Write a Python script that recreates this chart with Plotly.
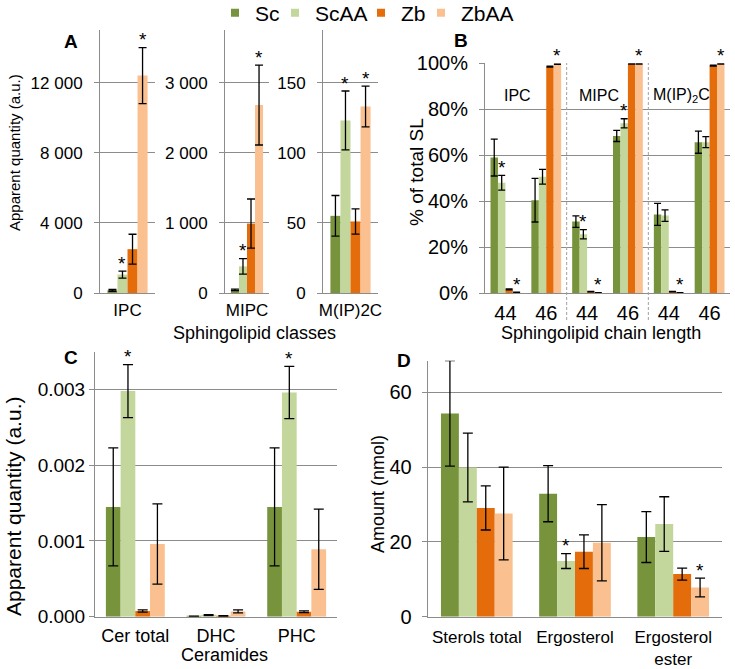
import plotly.graph_objects as go

W, H = 735, 669
FONT = "Liberation Sans, Arial, sans-serif"
GRAY = "#8c8c8c"

series = ["Sc", "ScAA", "Zb", "ZbAA"]
colors = ["#77933C", "#C3D69B", "#E46C0A", "#FAC090"]

# ---------------- Panel A : sphingolipid classes ----------------
a_cats = ["IPC", "MIPC", "M(IP)2C"]
a_ipc_vals = [150, 1050, 2500, 12400]
a_ipc_err = [50, 200, 850, 1600]
a_mipc_vals = [45, 380, 990, 2680]
a_mipc_err = [10, 110, 350, 570]
a_mip2c_vals = [55, 123, 51, 133]
a_mip2c_err = [14.5, 21, 9, 14.5]
a_sig = [False, True, False, True]   # per series, same in all three classes

# ---------------- Panel B : chain length (% of total SL) ----------------
b_cats = ["IPC 44", "IPC 46", "MIPC 44", "MIPC 46", "M(IP)2C 44", "M(IP)2C 46"]
b_ticks = ["44", "46", "44", "46", "44", "46"]
b_groups = ["IPC", "MIPC", "M(IP)<sub>2</sub>C"]
b_sc = [0.590, 0.405, 0.312, 0.684, 0.343, 0.657]
b_sc_err = [0.080, 0.095, 0.025, 0.024, 0.048, 0.048]
b_scaa = [0.481, 0.507, 0.257, 0.739, 0.338, 0.657]
b_scaa_err = [0.032, 0.032, 0.020, 0.020, 0.025, 0.024]
b_zb = [0.017, 0.986, 0.007, 0.997, 0.007, 0.990]
b_zb_err = [0.002, 0.002, 0.001, 0.001, 0.001, 0.002]
b_zbaa = [0.004, 0.996, 0.002, 0.998, 0.002, 0.998]
b_zbaa_err = [0.001, 0.001, 0.001, 0.001, 0.001, 0.001]
b_sig_scaa = [True, False, True, True, False, False]
b_sig_zbaa = [True, True, True, True, True, True]

# ---------------- Panel C : ceramides ----------------
c_cats = ["Cer total", "DHC", "PHC"]
c_sc = [0.00145, 0.000005, 0.00145]
c_sc_err = [0.00078, 0.000003, 0.00078]
c_scaa = [0.00298, 0.00002, 0.00296]
c_scaa_err = [0.00035, 0.000006, 0.000345]
c_zb = [0.000075, 0.00001, 0.000065]
c_zb_err = [0.000015, 0.000004, 0.000012]
c_zbaa = [0.00096, 0.00007, 0.00089]
c_zbaa_err = [0.00053, 0.00002, 0.00053]
c_sig_scaa = [True, False, True]

# ---------------- Panel D : sterols ----------------
d_cats = ["Sterols total", "Ergosterol", "Ergosterol<br>ester"]
d_sc = [54.4, 32.9, 21.3]
d_sc_err = [14.1, 7.5, 6.8]
d_scaa = [39.9, 14.9, 24.8]
d_scaa_err = [9.2, 2.0, 7.3]
d_zb = [29.1, 17.4, 11.4]
d_zb_err = [5.9, 4.5, 1.6]
d_zbaa = [27.6, 19.8, 7.8]
d_zbaa_err = [12.4, 10.2, 2.5]
d_sig_scaa = [False, True, False]
d_sig_zbaa = [False, False, True]


def px_x(p):
    return p / W


def px_y(p):
    return 1 - p / H


BARGAP = 0.27
fig = go.Figure()


def add_bar(xa, ya, cats, vals, errs, i, ewidth=4):
    fig.add_trace(go.Bar(
        x=cats, y=vals, xaxis=xa, yaxis=ya,
        marker=dict(color=colors[i], line=dict(width=0)),
        error_y=dict(type="data", array=errs, visible=True, color="black",
                     thickness=1.3, width=ewidth),
        name=series[i], showlegend=False, hoverinfo="skip"))


stars = []


def star(xref, yref, cat_idx, series_idx, top, shift=8):
    off = -(1 - BARGAP) / 2 + (series_idx + 0.5) * (1 - BARGAP) / 4
    stars.append(dict(x=cat_idx + off, y=top, xref=xref, yref=yref,
                      text="*", showarrow=False, yanchor="middle", yshift=shift,
                      font=dict(family=FONT, size=19, color="black")))


# Panel A bars
for i in range(4):
    add_bar("x", "y", [a_cats[0]], [a_ipc_vals[i]], [a_ipc_err[i]], i)
    add_bar("x2", "y2", [a_cats[1]], [a_mipc_vals[i]], [a_mipc_err[i]], i)
    add_bar("x3", "y3", [a_cats[2]], [a_mip2c_vals[i]], [a_mip2c_err[i]], i)
    if a_sig[i]:
        star("x", "y", 0, i, a_ipc_vals[i] + a_ipc_err[i])
        star("x2", "y2", 0, i, a_mipc_vals[i] + a_mipc_err[i])
        star("x3", "y3", 0, i, a_mip2c_vals[i] + a_mip2c_err[i])

# Panel B bars
b_vals = [b_sc, b_scaa, b_zb, b_zbaa]
b_errs = [b_sc_err, b_scaa_err, b_zb_err, b_zbaa_err]
for i in range(4):
    add_bar("x4", "y4", b_cats, b_vals[i], b_errs[i], i, ewidth=3.5)
for k in range(6):
    if b_sig_scaa[k]:
        star("x4", "y4", k, 1, b_scaa[k] + b_scaa_err[k])
    if b_sig_zbaa[k]:
        star("x4", "y4", k, 3, b_zbaa[k] + b_zbaa_err[k])

# Panel C bars
c_vals = [c_sc, c_scaa, c_zb, c_zbaa]
c_errs = [c_sc_err, c_scaa_err, c_zb_err, c_zbaa_err]
for i in range(4):
    add_bar("x5", "y5", c_cats, c_vals[i], c_errs[i], i, ewidth=5)
for k in range(3):
    if c_sig_scaa[k]:
        star("x5", "y5", k, 1, c_scaa[k] + c_scaa_err[k])

# Panel D bars
d_vals = [d_sc, d_scaa, d_zb, d_zbaa]
d_errs = [d_sc_err, d_scaa_err, d_zb_err, d_zbaa_err]
for i in range(4):
    add_bar("x6", "y6", d_cats, d_vals[i], d_errs[i], i, ewidth=5)
for k in range(3):
    if d_sig_scaa[k]:
        star("x6", "y6", k, 1, d_scaa[k] + d_scaa_err[k])
    if d_sig_zbaa[k]:
        star("x6", "y6", k, 3, d_zbaa[k] + d_zbaa_err[k])

# legend entries (one legend per item to reproduce spacing)
legend_names = ["legend", "legend2", "legend3", "legend4"]
legend_x = [215, 275, 361, 421]
for i in range(4):
    fig.add_trace(go.Scatter(
        x=[None], y=[None], xaxis="x", yaxis="y", mode="markers",
        marker=dict(symbol="square", size=8, color=colors[i]),
        name=series[i], showlegend=True, legend=legend_names[i]))


def yaxis(dom_top, dom_bot, rng, dtick, fsize, fmt, anchor, standoff):
    d = dict(domain=[px_y(dom_bot), px_y(dom_top)], range=rng, dtick=dtick,
             tick0=0, showline=True, linecolor=GRAY, linewidth=1,
             showgrid=True, gridcolor=GRAY, gridwidth=1, zeroline=False,
             ticks="outside", ticklen=5, tickcolor=GRAY, tickwidth=1,
             ticklabelstandoff=standoff, automargin=False,
             tickfont=dict(family=FONT, size=fsize, color="black"),
             anchor=anchor, fixedrange=True)
    if fmt:
        d["tickformat"] = fmt
    return d


def xaxis(left, right, fsize, anchor, standoff, **kw):
    d = dict(domain=[px_x(left), px_x(right)], type="category",
             showline=True, linecolor=GRAY, linewidth=1, showgrid=False,
             ticks="", tickfont=dict(family=FONT, size=fsize, color="black"),
             ticklabelstandoff=standoff, automargin=False,
             anchor=anchor, fixedrange=True)
    d.update(kw)
    return d


layout = dict(
    width=W, height=H, autosize=False,
    margin=dict(l=0, r=0, t=0, b=0, autoexpand=False),
    paper_bgcolor="white", plot_bgcolor="white",
    barmode="group", bargap=BARGAP, bargroupgap=0,
    separators=". ",
    font=dict(family=FONT, color="black"),
    xaxis=xaxis(100, 155, 17, "y", 2),
    yaxis=yaxis(30, 293, [0, 15000], 4000, 17, ",d", "x", 8),
    xaxis2=xaxis(225, 269, 17, "y2", 2),
    yaxis2=yaxis(30, 293, [0, 3750], 1000, 17, ",d", "x2", 8),
    xaxis3=xaxis(323, 378, 17, "y3", 2),
    yaxis3=yaxis(30, 293, [0, 187.5], 50, 17, None, "x3", 8),
    xaxis4=xaxis(485, 730, 20, "y4", 2, tickmode="array", tickvals=b_cats,
                 ticktext=b_ticks),
    yaxis4=yaxis(63.3, 293.3, [0, 1], 0.2, 20, ".0%", "x4", 7),
    xaxis5=xaxis(95, 337, 18, "y5", 3),
    yaxis5=yaxis(351.7, 616.7, [0, 0.0035], 0.001, 19, ".3f", "x5", 0),
    xaxis6=xaxis(427.7, 722.3, 17, "y6", 5),
    yaxis6=yaxis(360.7, 616.7, [0, 68.5], 20, 20, None, "x6", 6),
)

for i, ln in enumerate(legend_names):
    layout[ln] = dict(x=px_x(legend_x[i]), y=px_y(13), xanchor="left",
                      yanchor="middle", orientation="h", bgcolor="rgba(0,0,0,0)",
                      borderwidth=0, itemwidth=30,
                      font=dict(family=FONT, size=21, color="black"))

fig.update_layout(**layout)

ann = list(stars)


def label(text, x, y, size, angle=0, bold=False):
    ann.append(dict(text=f"<b>{text}</b>" if bold else text, x=px_x(x), y=px_y(y),
                    xref="paper", yref="paper", showarrow=False, textangle=angle,
                    xanchor="center", yanchor="middle",
                    font=dict(family=FONT, size=size, color="black")))


# panel letters
label("A", 71, 42, 19, bold=True)
label("B", 461, 41, 19, bold=True)
label("C", 71, 358, 19, bold=True)
label("D", 404, 360, 19, bold=True)
# axis titles
label("Apparent quantity (a.u.)", 14, 153, 15, angle=-90)
label("Sphingolipid classes", 254, 333, 18)
label("% of total SL", 417, 172, 19, angle=-90)
label("Sphingolipid chain length", 601, 333, 18)
label("Apparent quantity (a.u.)", 13, 507, 21, angle=-90)
label("Ceramides", 224, 655, 18)
label("Amount (nmol)", 378, 494, 18, angle=-90)
# group labels in panel B
for k, g in enumerate(b_groups):
    ann.append(dict(text=g, x=2 * k + 0.3, y=px_y(96), xref="x4", yref="paper",
                    showarrow=False, xanchor="center", yanchor="middle",
                    font=dict(family=FONT, size=16, color="black")))

fig.update_layout(annotations=ann)

# dashed separators in panel B
for xb in [1.5, 3.5]:
    fig.add_shape(type="line", xref="x4", yref="paper", x0=xb, x1=xb,
                  y0=px_y(320), y1=px_y(63),
                  line=dict(color="#a0a0a0", width=1, dash="3px,2px"))

fig.write_html("out.html", config={"displayModeBar": False},
               post_script="document.body.style.margin='0px';")
